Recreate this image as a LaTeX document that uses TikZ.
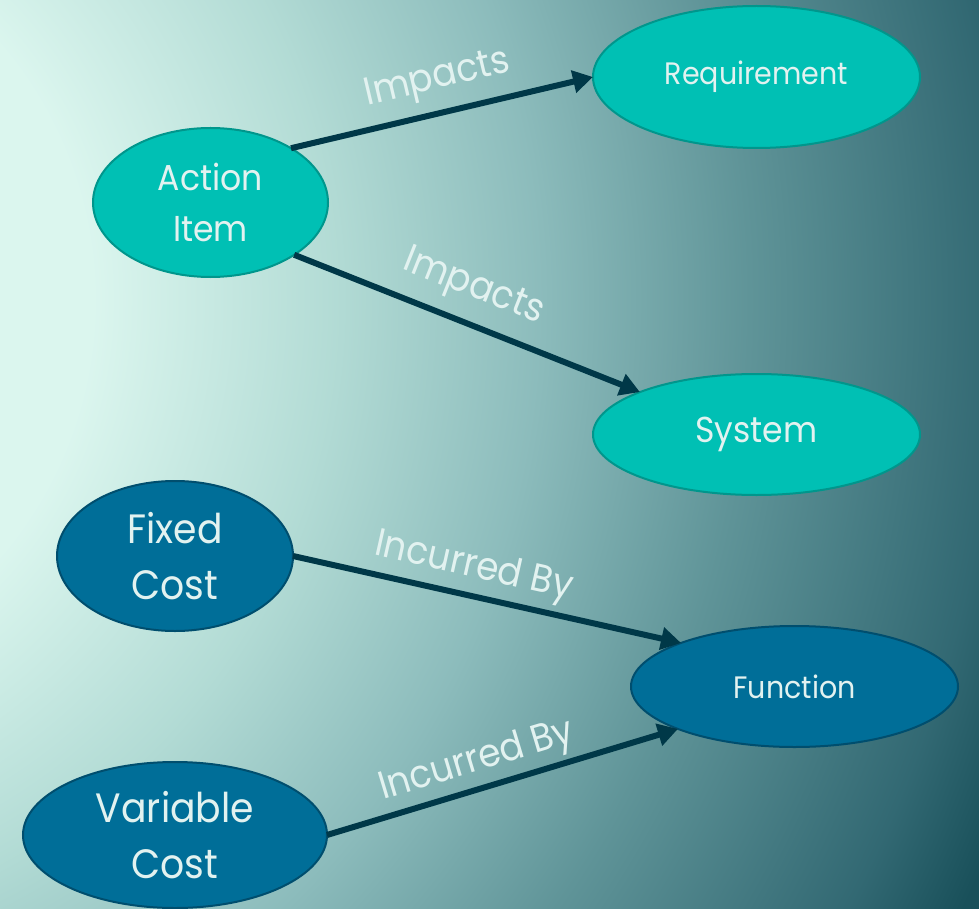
\documentclass[tikz,border=0pt]{standalone}
\usepackage{fontspec}
\setmainfont{Poppins}[FakeStretch=0.92]
\usetikzlibrary{arrows.meta,shapes.geometric}
\definecolor{tealfill}{RGB}{0,192,180}
\definecolor{tealline}{RGB}{0,150,140}
\definecolor{bluefill}{RGB}{0,110,152}
\definecolor{blueline}{RGB}{0,78,110}
\definecolor{txt}{RGB}{226,242,240}
\definecolor{arr}{RGB}{0,56,72}
\pgfdeclareradialshading{bgrad}{\pgfpoint{0bp}{0bp}}{rgb(0bp)=(0.86,0.965,0.935); rgb(6.1bp)=(0.86,0.965,0.935); rgb(9.9bp)=(0.70,0.86,0.835); rgb(13.1bp)=(0.55,0.737,0.737); rgb(16.4bp)=(0.373,0.58,0.596); rgb(20.3bp)=(0.196,0.41,0.45); rgb(21.9bp)=(0.098,0.314,0.353); rgb(50bp)=(0.098,0.314,0.353)}
\tikzset{
  ell/.style={ellipse, inner sep=0pt, outer sep=0pt, align=center, text=txt, line width=2pt},
  tealnode/.style={ell, fill=tealfill, draw=tealline},
  bluenode/.style={ell, fill=bluefill, draw=blueline},
  conn/.style={color=arr, line width=6pt, -{Triangle[length=20pt,width=22pt]}},
  lbl/.style={sloped, anchor=center, text=txt, inner sep=0pt, font=\fontsize{39}{40}\selectfont}
}
\begin{document}
\begin{tikzpicture}[x=1pt,y=-1pt]
\useasboundingbox (0,0) rectangle (979,909);
\begin{scope}
\clip (0,0) rectangle (979,909);
\shade[shading=bgrad] (-300,300) circle[radius=1600pt];
\end{scope}

\node[tealnode, minimum width=235pt, minimum height=149pt, font=\fontsize{36}{51}\selectfont] (act) at (210.5,202.5) {Action\\Item};
\node[tealnode, minimum width=327pt, minimum height=142pt, font=\fontsize{31}{36}\selectfont] (req) at (756.5,77) {Requirement};
\node[tealnode, minimum width=327pt, minimum height=121pt, font=\fontsize{36}{40}\selectfont] (sys) at (756.5,434.5) {System};
\node[bluenode, minimum width=236pt, minimum height=150pt, font=\fontsize{41}{56}\selectfont] (fix) at (175,556) {Fixed\\Cost};
\node[bluenode, minimum width=304pt, minimum height=146pt, font=\fontsize{41}{56}\selectfont] (var) at (175,835) {Variable\\Cost};
\node[bluenode, minimum width=327pt, minimum height=121pt, font=\fontsize{31}{36}\selectfont] (fun) at (794.5,686.5) {Function};

\draw[conn] (act.34) -- node[lbl, pos=0.51, yshift=33pt] (l1) {Impacts} (req.west);
\draw[conn] (act.-32) -- node[lbl, pos=0.48, yshift=35pt] (l2) {Impacts} (sys.160);
\draw[conn] (fix.east) -- node[lbl, pos=0.45, yshift=28pt] (l3) {Incurred By} (fun.159.5);
\draw[conn] (var.east) -- node[lbl, pos=0.45, yshift=27pt] (l4) {Incurred By} (fun.200);
\end{tikzpicture}
\end{document}
